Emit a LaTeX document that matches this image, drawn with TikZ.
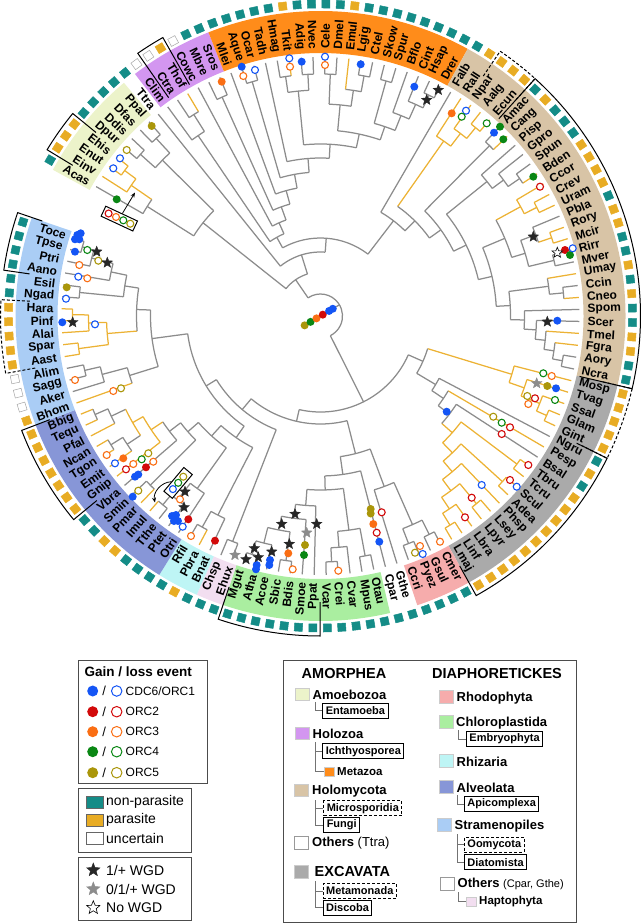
\documentclass[tikz,border=0pt]{standalone}
\usepackage{fontspec}
\setmainfont{Liberation Sans}
\usetikzlibrary{shapes.geometric, arrows.meta, positioning, calc}

\definecolor{tgray}{RGB}{140,140,140}
\definecolor{torg}{RGB}{236,178,52}
\definecolor{nonpar}{RGB}{20,140,135}
\definecolor{para}{RGB}{232,172,36}
\definecolor{cB}{RGB}{20,85,245}
\definecolor{cR}{RGB}{210,10,10}
\definecolor{cO}{RGB}{250,110,20}
\definecolor{cG}{RGB}{10,135,20}
\definecolor{cY}{RGB}{170,150,10}
\definecolor{amoeb}{RGB}{236,243,202}
\definecolor{holoz}{RGB}{211,150,240}
\definecolor{metaz}{RGB}{255,140,26}
\definecolor{holom}{RGB}{216,196,166}
\definecolor{excav}{RGB}{170,170,170}
\definecolor{rhodo}{RGB}{246,172,172}
\definecolor{chlor}{RGB}{170,238,160}
\definecolor{hapto}{RGB}{242,222,240}
\definecolor{rhiza}{RGB}{190,245,245}
\definecolor{alveo}{RGB}{135,150,215}
\definecolor{stram}{RGB}{170,205,245}
\colorlet{lnT}{tgray}\colorlet{lnY}{torg}\colorlet{lnW}{tgray}
\colorlet{sqT}{nonpar}\colorlet{sqY}{para}\colorlet{sqW}{white}
\colorlet{bdT}{nonpar}\colorlet{bdY}{para}\colorlet{bdW}{black!35}

\newcommand\lfs[1]{\fontsize{#1}{#1}\selectfont}

% join two children (leaf or clade) at radius #3
\newcommand\jn[5][tgray]{%
  \edef\aA{\csname A@#4\endcsname}\edef\aB{\csname A@#5\endcsname}%
  \edef\rA{\csname R@#4\endcsname}\edef\rB{\csname R@#5\endcsname}%
  \edef\cA{\csname K@#4\endcsname}\edef\cB{\csname K@#5\endcsname}%
  \draw[br,\cA] (\aA:#3) -- (\aA:\rA);
  \draw[br,\cB] (\aB:#3) -- (\aB:\rB);
  \draw[br,#1] (\aA:#3) arc[start angle=\aA, end angle=\aB, radius=#3];
  \pgfmathsetmacro\aN{(\aA+\aB)/2}%
  \expandafter\xdef\csname A@#2\endcsname{\aN}%
  \expandafter\xdef\csname R@#2\endcsname{#3}%
  \expandafter\xdef\csname K@#2\endcsname{#1}%
}

\begin{document}
\begin{tikzpicture}[x=1pt, y=-1pt,
    br/.style={line width=1.25pt},
    lbl/.style={font=\bfseries\lfs{12}, inner sep=0pt},
    sq/.style={minimum size=8pt, inner sep=0pt, line width=0.5pt},
    gbox/.style={line width=1pt},
    fdot/.style={circle, inner sep=0pt, minimum size=8pt, fill=#1},
    odot/.style={circle, inner sep=0pt, minimum size=7pt, draw=#1, line width=1.1pt, fill=white},
    wgd/.style={star, star points=5, star point ratio=2.3, inner sep=0pt, minimum size=11pt, fill=#1, draw=#1},
    lgframe/.style={draw=black!70, line width=1pt},
    hdr/.style={font=\bfseries\lfs{14.5}, inner sep=0pt},
    grp/.style={font=\bfseries\lfs{13}, inner sep=0pt, anchor=west},
    subbox/.style={draw, line width=0.9pt, font=\bfseries\lfs{11}, inner xsep=3pt, inner ysep=0pt, minimum height=15pt, anchor=west},
    swatch/.style={draw=black!20, minimum width=14pt, minimum height=12pt, inner sep=0pt},
    lgcon/.style={black!55, line width=0.6pt}]
\useasboundingbox (0,0) rectangle (641,923);

\begin{scope}[shift={(320.5,316)}, yscale=-1]
% coloured bands
\foreach \gF/\gL/\gC in {-8/-1/amoeb, 1/6/holoz, 7/25/metaz, 26/53/holom, 54/71/excav, 72/75/rhodo, 78/89/chlor, 90/91/hapto, 92/94/rhiza, 95/108/alveo, 109/123/stram}{
  \pgfmathsetmacro\ba{128.8-2.653*(\gF-0.5)}
  \pgfmathsetmacro\bb{128.8-2.653*(\gL+0.5)}
  \fill[\gC] (\ba:263) arc[start angle=\ba, end angle=\bb, radius=263] -- (\bb:305) arc[start angle=\bb, end angle=\ba, radius=305] -- cycle;
}
% leaves: slot / name / parasite status
\foreach \lsl/\lnm/\lst in {-8/Acas/T,-7/Einv/Y,-6/Enut/Y,-5/Ehis/Y,-4/Dpur/T,-3/Ddis/T,-2/Dfas/T,-1/Ppal/T,
  0/Ttra/T,1/Clim/W,2/Ctra/W,3/Thof/Y,4/Cowc/W,5/Mbre/T,6/Sros/T,
  7/Mlei/T,8/Aque/T,9/Ocar/T,10/Tadh/T,11/Hmag/T,12/Tkit/Y,13/Adig/T,14/Nvec/T,15/Cele/T,16/Dmel/T,17/Emul/Y,18/Lgig/T,19/Ctel/T,20/Skow/T,21/Spur/T,22/Bflo/T,23/Cint/T,24/Hsap/T,25/Drer/T,
  26/Falb/T,27/Rall/Y,28/Npar/Y,29/Aalg/Y,30/Ecun/Y,31/Amac/T,32/Cang/Y,33/Pisp/T,34/Gpro/T,35/Spun/T,36/Bden/Y,37/Ccor/Y,38/Crev/Y,39/Uram/Y,40/Pbla/T,41/Rory/Y,42/Mcir/Y,43/Rirr/T,44/Mver/T,45/Umay/Y,46/Ccin/T,47/Cneo/Y,48/Spom/T,49/Scer/T,50/Tmel/Y,51/Fgra/Y,52/Aory/T,53/Ncra/T,
  54/Mosp/Y,55/Tvag/Y,56/Ssal/Y,57/Glam/Y,58/Gint/Y,59/Ngru/T,60/Pesp/Y,61/Bsal/T,62/Tbru/Y,63/Tcru/Y,64/Scul/Y,65/Adea/Y,66/Phsp/Y,67/Lsey/Y,68/Lpyr/Y,69/Lbra/Y,70/Linf/Y,71/Lmaj/Y,
  72/Cmer/T,73/Gsul/T,74/Pyez/T,75/Ccri/T,76/Gthe/T,77/Cpar/T,
  78/Otau/T,79/Mpus/T,80/Cvar/T,81/Crei/T,82/Vcar/T,83/Ppat/T,84/Smoe/T,85/Bdis/T,86/Sbic/T,87/Acoe/T,88/Atha/T,89/Mgut/T,
  90/Ehux/T,91/Chsp/T,92/Bnat/T,93/Pbra/Y,94/Rfil/T,
  95/Otri/T,96/Ptet/T,97/Tthe/T,98/Imul/Y,99/Pmar/Y,100/Smin/T,101/Vbra/T,102/Gnip/Y,103/Emit/Y,104/Tgon/Y,105/Ncan/Y,106/Pfal/Y,107/Tequ/Y,108/Bbig/Y,
  109/Bhom/Y,110/Aker/W,111/Sagg/W,112/Alim/W,113/Aast/Y,114/Spar/Y,115/Alai/Y,116/Pinf/Y,117/Hara/Y,118/Ngad/T,119/Esil/T,120/Aano/T,121/Ptri/T,122/Tpse/T,123/Toce/T}{
  \pgfmathsetmacro\la{128.8-2.653*\lsl}
  \expandafter\xdef\csname A@\lnm\endcsname{\la}
  \expandafter\xdef\csname R@\lnm\endcsname{259}
  \expandafter\xdef\csname K@\lnm\endcsname{ln\lst}
  \pgfmathtruncatemacro\lft{(\la>90)||(\la<-90)}
  \ifnum\lft=1
    \pgfmathsetmacro\rot{\la+180}
    \node[lbl, anchor=east, rotate=\rot] (L\lnm) at (\la:267) {\lnm};
  \else
    \node[lbl, anchor=west, rotate=\la] (L\lnm) at (\la:267) {\lnm};
  \fi
  \node[sq, fill=sq\lst, draw=bd\lst, rotate=\la] (S\lnm) at (\la:312) {};
}
% group brackets (open towards the tree)
\foreach \gF/\gL/\gR/\gS in {-7/-5/290/solid, 2/3/266/solid, 28/30/290/densely dashed, 31/53/266/solid, 54/58/290/densely dashed, 59/71/286/solid, 83/89/286/solid, 102/108/290/solid, 113/117/290/densely dashed, 120/123/294/solid}{
  \pgfmathsetmacro\ba{128.8-2.653*(\gF-0.5)}
  \pgfmathsetmacro\bb{128.8-2.653*(\gL+0.5)}
  \draw[gbox,\gS] (\ba:\gR) -- (\ba:320) arc[start angle=\ba, end angle=\bb, radius=320] -- (\bb:\gR);
}

% Amoebozoa
\jn[torg]{Ent2}{244}{Enut}{Ehis}
\jn[torg]{Ent}{230}{Einv}{Ent2}
\jn{AcEn}{205}{Acas}{Ent}
\jn{Dic1}{242}{Dpur}{Ddis}
\jn{Dic2}{242}{Dfas}{Ppal}
\jn{Dict}{222}{Dic1}{Dic2}
\jn{Amoe}{150}{AcEn}{Dict}
% Holozoa
\jn{Ich}{238}{Ctra}{Thof}
\jn{Ich2}{218}{Clim}{Ich}
\jn{Cho}{240}{Mbre}{Sros}
\jn{Por}{244}{Aque}{Ocar}
\jn{Hyd}{242}{Hmag}{Tkit}
\jn{Ant}{242}{Adig}{Nvec}
\jn{Cni}{226}{Hyd}{Ant}
\jn{Ecd}{242}{Cele}{Dmel}
\jn{Lop2}{244}{Lgig}{Ctel}
\jn{Lop}{228}{Emul}{Lop2}
\jn{Pro}{212}{Ecd}{Lop}
\jn{Amb}{244}{Skow}{Spur}
\jn{Vt2}{246}{Hsap}{Drer}
\jn{Vt}{232}{Cint}{Vt2}
\jn{Chd}{216}{Bflo}{Vt}
\jn{Deu}{200}{Amb}{Chd}
\jn{Bil}{186}{Pro}{Deu}
\jn{Eum}{172}{Cni}{Bil}
\jn{Met3}{158}{Tadh}{Eum}
\jn{Met2}{144}{Por}{Met3}
\jn{Met}{130}{Mlei}{Met2}
\jn{ChM}{116}{Cho}{Met}
\jn{Fil}{102}{Cowc}{ChM}
\jn{Hol}{90}{Ich2}{Fil}
% Holomycota
\jn[torg]{Mic2}{244}{Aalg}{Ecun}
\jn[torg]{Mic}{230}{Npar}{Mic2}
\jn[torg]{Roz}{214}{Rall}{Mic}
\jn{Bla}{240}{Amac}{Cang}
\jn{Chy3}{242}{Spun}{Bden}
\jn{Chy2}{228}{Gpro}{Chy3}
\jn{Chy}{214}{Pisp}{Chy2}
\jn[torg]{Zo2}{242}{Crev}{Uram}
\jn[torg]{Zo}{228}{Ccor}{Zo2}
\jn[torg]{Muc2}{244}{Rory}{Mcir}
\jn{Muc}{230}{Pbla}{Muc2}
\jn{Mor}{240}{Rirr}{Mver}
\jn{Muco}{214}{Muc}{Mor}
\jn{Zyg}{200}{Zo}{Muco}
\jn{Bas2}{244}{Ccin}{Cneo}
\jn{Bas}{230}{Umay}{Bas2}
\jn{Asc6}{246}{Aory}{Ncra}
\jn{Asc5}{236}{Fgra}{Asc6}
\jn{Asc4}{226}{Tmel}{Asc5}
\jn{Asc3}{216}{Scer}{Asc4}
\jn{Asc}{204}{Spom}{Asc3}
\jn{Dik}{190}{Bas}{Asc}
\jn{Fu4}{176}{Zyg}{Dik}
\jn{Fu3}{162}{Chy}{Fu4}
\jn{Fu2}{148}{Bla}{Fu3}
\jn{Fun}{134}{Roz}{Fu2}
\jn{Hmy}{120}{Falb}{Fun}
\jn{Opi}{78}{Hol}{Hmy}
\jn{AT}{64}{Ttra}{Opi}
\jn{Amo}{44}{Amoe}{AT}
% Excavata
\jn[torg]{Gia}{247}{Glam}{Gint}
\jn[torg]{Dip}{236}{Ssal}{Gia}
\jn[torg]{Mt2}{216}{Tvag}{Dip}
\jn[torg]{Mtm}{200}{Mosp}{Mt2}
\jn[torg]{LI}{246}{Linf}{Lmaj}
\jn[torg]{Le}{232}{Lbra}{LI}
\jn[torg]{LL}{244}{Lsey}{Lpyr}
\jn[torg]{Lp}{218}{LL}{Le}
\jn[torg]{Ph}{204}{Phsp}{Lp}
\jn[torg]{SAd}{246}{Scul}{Adea}
\jn[torg]{Tr2}{190}{SAd}{Ph}
\jn[torg]{TT}{246}{Tbru}{Tcru}
\jn[torg]{Try}{176}{TT}{Tr2}
\jn{BT}{162}{Bsal}{Try}
\jn{Eug}{148}{Pesp}{BT}
\jn{Dis}{134}{Ngru}{Eug}
\jn{Exc}{112}{Mtm}{Dis}
% Archaeplastida and others
\jn{Rh1}{244}{Cmer}{Gsul}
\jn{Rh2}{244}{Pyez}{Ccri}
\jn{Rho}{228}{Rh1}{Rh2}
\jn{RG}{182}{Rho}{Gthe}
\jn{Cv}{246}{Crei}{Vcar}
\jn{Ch3}{232}{Cvar}{Cv}
\jn{Pr}{244}{Otau}{Mpus}
\jn{Chl}{216}{Pr}{Ch3}
\jn{BS}{247}{Bdis}{Sbic}
\jn{AM}{248}{Atha}{Mgut}
\jn{EU}{234}{Acoe}{AM}
\jn{Ang}{218}{BS}{EU}
\jn{SmA}{204}{Smoe}{Ang}
\jn{Emb}{190}{Ppat}{SmA}
\jn{Chp}{174}{Chl}{Emb}
\jn{CC}{160}{Cpar}{Chp}
\jn{Arc}{142}{RG}{CC}
% Haptophyta, SAR
\jn{Hap}{242}{Ehux}{Chsp}
\jn{Rz2}{242}{Pbra}{Rfil}
\jn{Rhz}{224}{Bnat}{Rz2}
\jn{TI}{246}{Tthe}{Imul}
\jn{Oli}{233}{Ptet}{TI}
\jn{Cil}{212}{Otri}{Oli}
\jn{TN}{246}{Tgon}{Ncan}
\jn{Coc}{232}{Emit}{TN}
\jn{TB}{246}{Tequ}{Bbig}
\jn{Hae}{232}{Pfal}{TB}
\jn[torg]{Api2}{216}{Coc}{Hae}
\jn[torg]{Api}{204}{Gnip}{Api2}
\jn{Chr}{190}{Vbra}{Api}
\jn{PS}{240}{Pmar}{Smin}
\jn{Myz}{176}{PS}{Chr}
\jn{Alv}{162}{Cil}{Myz}
\jn{RA}{148}{Rhz}{Alv}
\jn{TT2}{248}{Tpse}{Toce}
\jn{Dtm}{236}{Ptri}{TT2}
\jn{AD}{214}{Aano}{Dtm}
\jn{NE}{242}{Ngad}{Esil}
\jn{Och}{198}{NE}{AD}
\jn[torg]{PH}{248}{Pinf}{Hara}
\jn[torg]{Per}{232}{Alai}{PH}
\jn[torg]{Sap}{244}{Aast}{Spar}
\jn[torg]{Oom}{214}{Sap}{Per}
\jn{Gyr}{184}{Oom}{Och}
\jn{SA2}{242}{Sagg}{Alim}
\jn{Lab}{226}{Aker}{SA2}
\jn{Big}{200}{Bhom}{Lab}
\jn{Str}{170}{Big}{Gyr}
\jn{SAR}{134}{RA}{Str}
\jn{HS}{122}{Hap}{SAR}
\jn{Dph}{108}{Arc}{HS}
\jn{Rest}{96}{Exc}{Dph}
\jn{Root}{22}{Amo}{Rest}
% root stem with the ancestral gains
\edef\aR{\csname A@Root\endcsname}
\draw[br,tgray] ({\aR+180}:21) -- (\aR:22)
  node[fdot=cY, pos=0.06] (rt1) {} node[fdot=cG, pos=0.22] (rt2) {}
  node[fdot=cO, pos=0.38] (rt3) {} node[fdot=cR, pos=0.55] (rt4) {}
  node[fdot=cB, pos=0.72] (rt5) {} node[fdot=cB, pos=0.82] (rt6) {};
\end{scope}

% gain events
\foreach[count=\i] \x/\y/\c in {221.7/81.7/cO, 241.7/66.7/cB, 301.7/61.7/cB, 360.7/64.3/cB, 414.3/86.7/cB, 451.7/113.3/cO, 500/126.7/cG, 494/132.7/cB, 503.3/139.3/cG, 533.3/176.7/cG, 565/250/cR, 570/255/cG, 557.3/320.7/cB, 547.3/386/cY, 556/388.3/cB, 446.7/411.7/cB, 370.7/509/cY, 370.7/513.5/cY, 373.3/524/cO, 379.3/541.7/cB, 146/467.3/cR, 135/476.7/cB, 138.3/474.5/cB, 132.7/496.7/cB, 172/516/cB, 176/515/cB, 174/521/cB, 178/521/cB, 188.3/519.3/cR, 215/540.7/cR, 256.7/565/cB, 256/569.3/cB, 270/560/cB, 269.3/565/cB, 288.3/553.3/cO, 305/545/cY, 304/555/cG, 77.3/235/cB, 80.7/233.3/cB, 79.3/239.3/cB, 75/239.3/cB, 75/251.7/cB, 66.7/287.3/cY, 62.3/322.3/cB, 123.3/458.3/cO, 151.7/126/cY, 116.7/199.3/cG}
  \node[fdot=\c] (ef\i) at (\x,\y) {};
% loss events
\foreach[count=\i] \x/\y/\c in {243.3/76/cO, 255/70/cB, 289.3/58.3/cB, 290/66.7/cO, 325/56.7/cB, 325/65/cO, 466/110.7/cB, 461.7/116.7/cG, 486.7/123.3/cG, 540/186.7/cR, 572.7/248.3/cB, 543.3/373.3/cG, 551.7/376/cO, 527.3/396/cY, 535/398.3/cR, 528.3/404/cO, 555/400/cG, 493.3/416.7/cY, 501.7/422.7/cG, 510/427.3/cR, 501.7/434/cR, 528.3/465/cR, 510/480/cR, 516.7/486.7/cB, 481.7/485/cB, 471.7/497.7/cR, 465/517.3/cR, 381.7/512.3/cR, 376.7/532.7/cR, 420/546/cO, 415/552.7/cY, 422.7/554/cB, 440/541.7/cO, 338.3/570.7/cO, 133.3/464/cO, 141.7/459.3/cG, 148.3/453.3/cY, 153.3/461.7/cO, 138.3/490.7/cY, 180/499.3/cO, 182.7/526.7/cB, 191/536/cO, 292.7/569.3/cO, 87.3/250/cG, 98.3/260.7/cY, 79.3/265/cO, 78.3/276.7/cB, 87.3/278.3/cO, 66/298.7/cB, 95/324.3/cB, 75/380/cO, 113.3/391/cO, 121/388.3/cY, 106.7/455/cO, 115/463.3/cB, 126/469.3/cR, 126.7/150/cY, 120/158.3/cB, 113.3/168.3/cB}
  \node[odot=\c] (eo\i) at (\x,\y) {};
% WGD stars
\foreach[count=\i] \x/\y in {438.3/90, 426.7/100, 533.3/236.7, 547.3/321.7, 185/491.7, 184/507.3, 246/559.3, 254.3/548.3, 258.3/557.3, 271.7/551.7, 281.7/524, 295/514, 316.7/524, 289.3/544, 96.7/251.7, 107.3/262.7, 72.7/322.3}
  \node[wgd=black!85] (ws\i) at (\x,\y) {};
\foreach[count=\i] \x/\y in {536.7/383.3, 235/555, 306.7/532.7}
  \node[wgd=black!45] (wg\i) at (\x,\y) {};
\node[wgd=black, fill=white, line width=0.6pt] (wn1) at (557.3,252.7) {};

% small boxes of losses shared by a clade
\node[draw, line width=1pt, rotate=-25, minimum width=35pt, minimum height=11pt, inner sep=0pt, fill=white] (ev1) at (119.3,218.6) {};
\foreach[count=\i] \x/\y/\c in {108.6/213.5/cR, 116/217/cO, 123.3/220.3/cG, 130.3/223.7/cY}
  \node[odot=\c] (eb\i) at (\x,\y) {};
\coordinate (entstem) at (135,192.5);
\draw[-{Stealth[length=5pt,width=4pt]}, line width=0.8pt] (ev1) -- (entstem);
\node[draw, line width=1pt, rotate=50, minimum width=31pt, minimum height=11pt, inner sep=0pt, fill=white] (ev2) at (178.1,482.9) {};
\foreach[count=\i] \x/\y/\c in {183.3/476.7/cY, 178.2/482.8/cG, 172.9/489.1/cB}
  \node[odot=\c] (ec\i) at (\x,\y) {};
\coordinate (alvtip) at (155,502.5);
\draw[-{Stealth[length=5pt,width=4pt]}, line width=0.8pt] (ev2) to[bend right=50] (alvtip);

% legend: events
\draw[lgframe] (78,660) rectangle (207,783);
\node[anchor=west, font=\bfseries\lfs{13.5}, inner sep=0pt] (tGain) at (84.5,671.5) {Gain / loss event};
\foreach[count=\i] \y/\c/\t in {691/cB/{CDC6/ORC1}, 711.7/cR/ORC2, 731.7/cO/ORC3, 751.7/cG/ORC4, 772.7/cY/ORC5}{
  \node[fdot=\c, minimum size=11pt] (gF\i) at (92.7,\y) {};
  \node[font=\lfs{13}, inner sep=0pt] (gS\i) at (104.3,\y) {/};
  \node[odot=\c, minimum size=10.5pt, line width=1pt] (gO\i) at (116.7,\y) {};
  \node[anchor=west, font=\lfs{12}, inner sep=0pt] (gT\i) at (125.5,\y) {\t};
}
% legend: lifestyle
\draw[lgframe] (78,788) rectangle (191,852);
\foreach[count=\i] \y/\c/\t in {802/nonpar/non-parasite, 820/para/parasite, 838.3/white/uncertain}{
  \node[draw=black!60, fill=\c, minimum width=17pt, minimum height=12pt, inner sep=0pt] (pK\i) at (94.7,\y) {};
  \node[anchor=west, font=\lfs{14}, inner sep=0pt] (pT\i) at (106,\y) {\t};
}
% legend: WGD
\draw[lgframe] (78,857) rectangle (191,920);
\node[wgd=black!85, minimum size=14pt] (wK1) at (93.3,870) {};
\node[wgd=black!45, minimum size=14pt] (wK2) at (93.3,889) {};
\node[wgd=black, fill=white, line width=0.6pt, minimum size=14pt] (wK3) at (93.3,907.7) {};
\node[anchor=west, font=\lfs{14}, inner sep=0pt] (wT1) at (106,870) {1/+ WGD};
\node[anchor=west, font=\lfs{14}, inner sep=0pt] (wT2) at (106,889) {0/1/+ WGD};
\node[anchor=west, font=\lfs{14}, inner sep=0pt] (wT3) at (106,907.7) {No WGD};

% legend: taxonomy
\draw[lgframe] (283,660) rectangle (576,922);
\node[hdr] (hAmo) at (344,673.5) {AMORPHEA};
\node[hdr] (hDia) at (497,673.5) {DIAPHORETICKES};
\node[swatch, fill=amoeb] (kAmo) at (302,694.3) {};
\node[grp] (tAmo) at (312.5,694.5) {Amoebozoa};
\node[subbox] (bEnt) at (322.3,710.5) {Entamoeba};
\coordinate (cAmo) at (315,702);
\draw[lgcon] (cAmo) |- (bEnt.west);
\node[swatch, fill=holoz] (kHoz) at (301.7,733) {};
\node[grp] (tHoz) at (312.5,733.5) {Holozoa};
\node[subbox] (bIch) at (322.3,751.2) {Ichthyosporea};
\node[swatch, fill=metaz, minimum width=10pt, minimum height=9pt] (kMet) at (329.2,771.2) {};
\node[grp, font=\bfseries\lfs{11.5}] (tMet) at (337,771.7) {Metazoa};
\coordinate (cHoz) at (315,742);
\draw[lgcon] (cHoz) |- (bIch.west);
\draw[lgcon] (cHoz) |- (kMet.west);
\node[swatch, fill=holom] (kHmy) at (301.3,790) {};
\node[grp] (tHmy) at (312,791) {Holomycota};
\node[subbox, densely dashed] (bMic) at (323.3,808.3) {Microsporidia};
\node[subbox] (bFun) at (323.3,825) {Fungi};
\coordinate (cHmy) at (315,800);
\draw[lgcon] (cHmy) |- (bMic.west);
\draw[lgcon] (cHmy) |- (bFun.west);
\node[swatch, fill=white, draw=black!40, minimum height=13pt] (kOtA) at (301.3,842.3) {};
\node[grp] (tOtA) at (312,843.3) {Others {\mdseries(Ttra)}};
\node[swatch, fill=excav, minimum height=13pt] (kExc) at (301.3,871.7) {};
\node[grp, font=\bfseries\lfs{14.5}] (tExc) at (314.5,871.7) {EXCAVATA};
\node[subbox, densely dashed] (bMtm) at (322.7,891) {Metamonada};
\node[subbox] (bDis) at (322.7,907.7) {Discoba};
\coordinate (cExc) at (315,881);
\draw[lgcon] (cExc) |- (bMtm.west);
\draw[lgcon] (cExc) |- (bDis.west);
\node[swatch, fill=rhodo, minimum height=13pt] (kRho) at (446.2,696.7) {};
\node[grp] (tRho) at (456.5,698.3) {Rhodophyta};
\node[swatch, fill=chlor, minimum height=13pt] (kChl) at (446.2,722) {};
\node[grp] (tChl) at (456,722.7) {Chloroplastida};
\node[subbox] (bEmb) at (466,738.8) {Embryophyta};
\coordinate (cChl) at (458.5,730);
\draw[lgcon] (cChl) |- (bEmb.west);
\node[swatch, fill=rhiza, minimum height=13pt] (kRhz) at (446.2,761) {};
\node[grp] (tRhz) at (456.5,761.7) {Rhizaria};
\node[swatch, fill=alveo, minimum height=13pt] (kAlv) at (446.2,786.8) {};
\node[grp] (tAlv) at (456.5,787.7) {Alveolata};
\node[subbox] (bApi) at (464,804) {Apicomplexa};
\coordinate (cAlv) at (457,795);
\draw[lgcon] (cAlv) |- (bApi.west);
\node[swatch, fill=stram, minimum height=13pt] (kStr) at (444.3,825) {};
\node[grp] (tStr) at (454.5,825.7) {Stramenopiles};
\node[subbox, densely dashed] (bOom) at (464,844.7) {Oomycota};
\node[subbox] (bDtm) at (464,862.3) {Diatomista};
\coordinate (cStr) at (457,834);
\draw[lgcon] (cStr) |- (bOom.west);
\draw[lgcon] (cStr) |- (bDtm.west);
\node[swatch, fill=white, draw=black!40, minimum height=13pt] (kOtD) at (447.2,883.3) {};
\node[grp] (tOtD) at (457.5,884.3) {Others {\mdseries\lfs{11}(Cpar, Gthe)}};
\node[swatch, fill=hapto, minimum width=10pt, minimum height=9pt] (kHap) at (471,901.2) {};
\node[grp, font=\bfseries\lfs{11.5}] (tHap) at (479,901.7) {Haptophyta};
\coordinate (cOtD) at (458,892);
\draw[lgcon] (cOtD) |- (kHap.west);
\end{tikzpicture}
\end{document}
